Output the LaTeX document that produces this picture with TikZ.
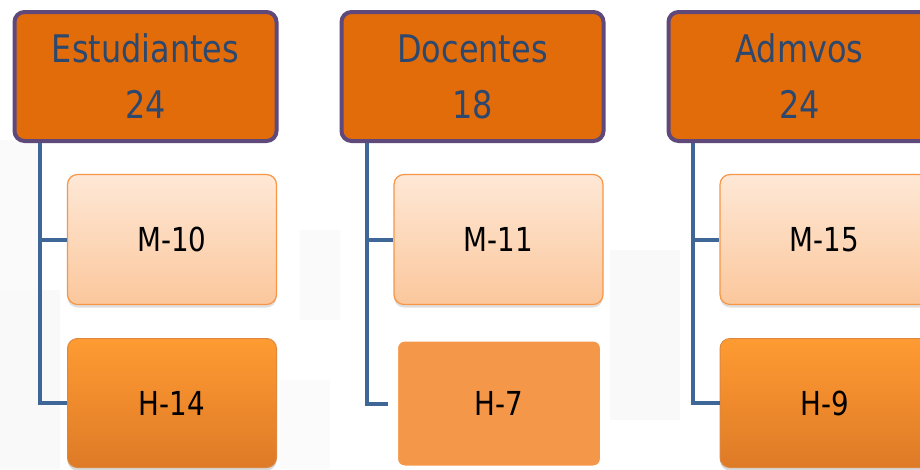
\documentclass[tikz,border=0pt]{standalone}
\usepackage{fontspec}
\setmainfont{DejaVu Sans}[FakeStretch=0.84]
\usetikzlibrary{shadows,calc}
\definecolor{topfill}{RGB}{227,108,10}
\definecolor{topline}{RGB}{95,73,122}
\definecolor{toptext}{RGB}{44,72,110}
\definecolor{link}{RGB}{62,103,151}
\definecolor{mtop}{RGB}{254,232,214}
\definecolor{mbot}{RGB}{251,199,156}
\definecolor{mline}{RGB}{247,150,70}
\definecolor{htop}{RGB}{255,155,50}
\definecolor{hbot}{RGB}{222,122,38}
\definecolor{hflat}{RGB}{245,151,72}
\definecolor{bgtile}{RGB}{238,238,238}
\tikzset{
  topbox/.style={draw=topline, line width=4pt, fill=topfill, rounded corners=10pt,
    minimum width=262pt, minimum height=129pt, align=center, text=toptext,
    font=\fontsize{38}{56}\selectfont, inner sep=0pt},
  mbox/.style={draw=mline, line width=1.2pt, top color=mtop, bottom color=mbot,
    rounded corners=10pt, minimum width=209pt, minimum height=130pt,
    font=\fontsize{33}{40}\selectfont, text=black, inner sep=0pt,
    drop shadow={shadow xshift=0pt, shadow yshift=-3pt, opacity=0.25}},
  hbox/.style={draw=mline!90!black, line width=1pt, top color=htop, bottom color=hbot,
    rounded corners=10pt, minimum width=209pt, minimum height=129pt,
    font=\fontsize{33}{40}\selectfont, text=black, inner sep=0pt,
    drop shadow={shadow xshift=0pt, shadow yshift=-3pt, opacity=0.3}},
  hflatbox/.style={draw=white, line width=7pt, fill=hflat,
    rounded corners=10pt, minimum width=209pt, minimum height=131pt,
    font=\fontsize{33}{40}\selectfont, text=black, inner sep=0pt},
  linkline/.style={draw=link, line width=4pt}
}
\begin{document}
\begin{tikzpicture}[x=1pt,y=-1pt]
\clip (0,0) rectangle (920,469);
\fill[white] (0,0) rectangle (920,469);
% faint background tiles
\fill[bgtile, opacity=0.35] (0,290) rectangle (60,469);
\fill[bgtile, opacity=0.25] (0,140) rectangle (40,290);
\fill[bgtile, opacity=0.25] (300,230) rectangle (340,320);
\fill[bgtile, opacity=0.3] (610,250) rectangle (680,420);
\fill[bgtile, opacity=0.2] (280,380) rectangle (330,469);
% top boxes
\node[topbox] (est) at (145.5,76.5) {Estudiantes\\24};
\node[topbox] (doc) at (472.5,76.5) {Docentes\\18};
\node[topbox] (adm) at (799.5,76.5) {Admvos\\24};
% children
\node[mbox] (m10) at (172,239.5) {M-10};
\node[hbox] (h14) at (172,403) {H-14};
\node[mbox] (m11) at (498.5,239.5) {M-11};
\node[hflatbox] (h7) at (499,403.5) {H-7};
\node[mbox] (m15) at (824.5,239.5) {M-15};
\node[hbox] (h9) at (824.5,403) {H-9};
% connectors
\coordinate (es) at ($(est.south west)+(27,0)$);
\coordinate (ds) at ($(doc.south west)+(27,0)$);
\coordinate (as) at ($(adm.south west)+(26,0)$);
\draw[linkline] (es) |- (m10.west);
\draw[linkline] (es) |- (h14.west);
\draw[linkline] (ds) |- (m11.west);
\draw[linkline] (ds) |- ($(h7.west)+(-3.5,0)$);
\draw[linkline] (as) |- (m15.west);
\draw[linkline] (as) |- (h9.west);
\end{tikzpicture}
\end{document}
